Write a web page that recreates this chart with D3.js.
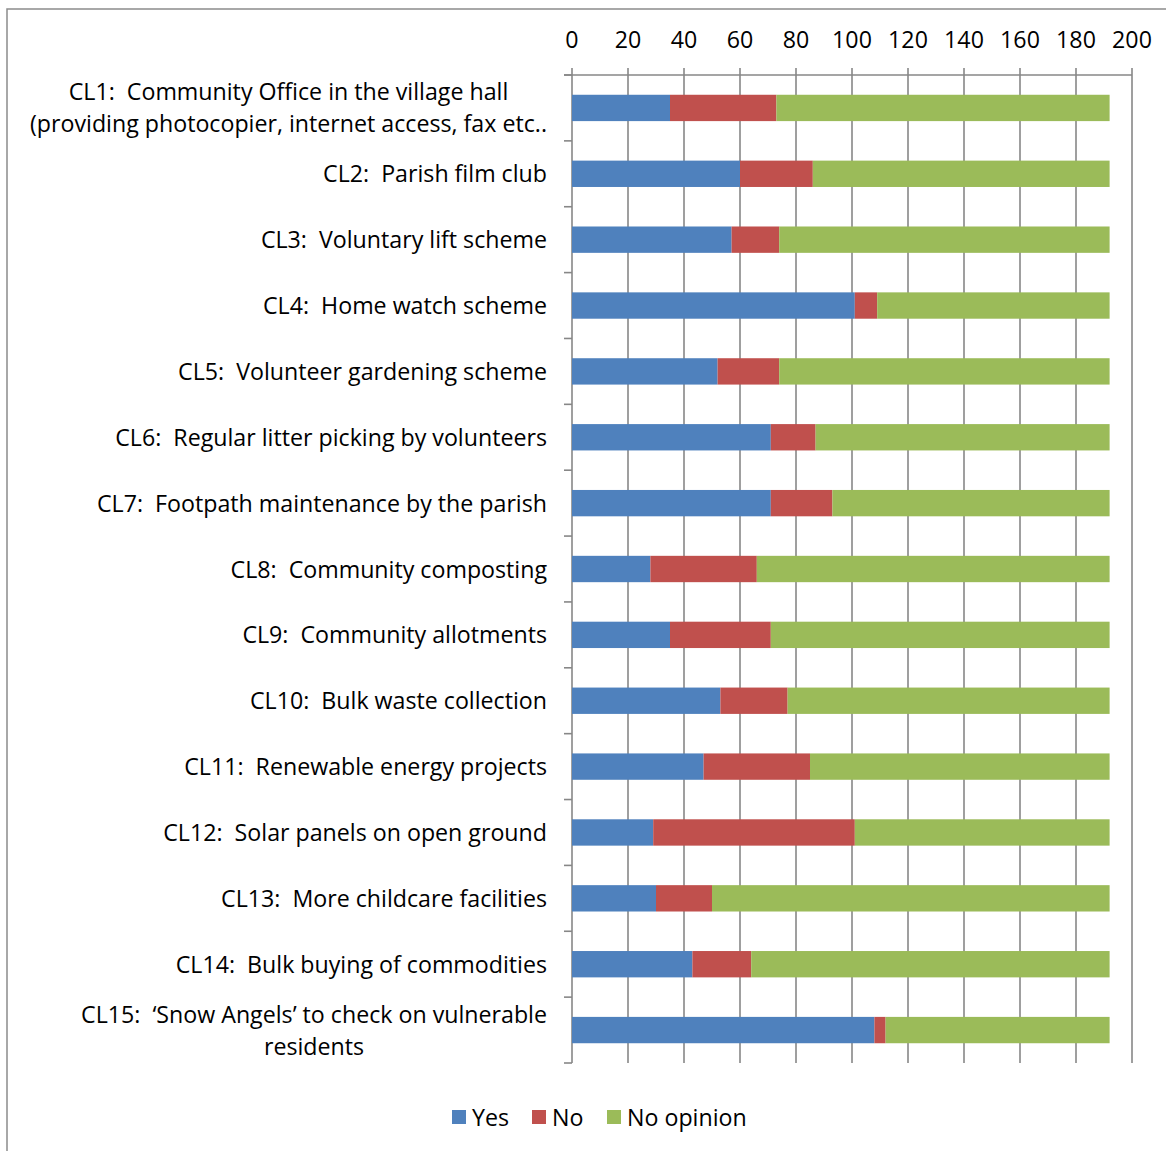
<!DOCTYPE html>
<html>
<head>
<meta charset="utf-8">
<script src="https://cdn.jsdelivr.net/npm/d3@7"></script>
<style>
  body { margin: 0; background: #fff; }
  text { font-family: "Open Sans", sans-serif; fill: #000; }
</style>
</head>
<body>
<div id="chart"></div>
<script>
var categories = [
  "CL1:  Community Office in the village hall\n(providing photocopier, internet access, fax etc..",
  "CL2:  Parish film club",
  "CL3:  Voluntary lift scheme",
  "CL4:  Home watch scheme",
  "CL5:  Volunteer gardening scheme",
  "CL6:  Regular litter picking by volunteers",
  "CL7:  Footpath maintenance by the parish",
  "CL8:  Community composting",
  "CL9:  Community allotments",
  "CL10:  Bulk waste collection",
  "CL11:  Renewable energy projects",
  "CL12:  Solar panels on open ground",
  "CL13:  More childcare facilities",
  "CL14:  Bulk buying of commodities",
  "CL15:  \u2018Snow Angels\u2019 to check on vulnerable\nresidents"
];
var yes       = [35, 60, 57, 101, 52, 71, 71, 28, 35, 53, 47, 29, 30, 43, 108];
var no        = [38, 26, 17, 8, 22, 16, 22, 38, 36, 24, 38, 72, 20, 21, 4];
var noOpinion = [119, 106, 118, 83, 118, 105, 99, 126, 121, 115, 107, 91, 142, 128, 80];
var seriesNames = ["Yes", "No", "No opinion"];
var colors = ["#4F81BD", "#C0504D", "#9BBB59"];
var xTicks = [0, 20, 40, 60, 80, 100, 120, 140, 160, 180, 200];

var width = 1166, height = 1151;
var margin = { top: 75, left: 572, right: 34, bottom: 88 };
var fontSize = "23.2px";

var svg = d3.select("#chart").append("svg")
  .attr("width", width)
  .attr("height", height);

// outer chart border
svg.append("rect")
  .attr("x", 7).attr("y", 9)
  .attr("width", width + 10).attr("height", height + 10)
  .attr("fill", "none")
  .attr("stroke", "#8c8c8c")
  .attr("stroke-width", 1.5);

var rows = categories.map(function(c, i) {
  return { label: c, Yes: yes[i], No: no[i], "No opinion": noOpinion[i] };
});
var stacked = d3.stack().keys(seriesNames)(rows);

var x = d3.scaleLinear().domain([0, 200]).range([margin.left, width - margin.right]);
var y = d3.scaleBand().domain(d3.range(categories.length))
  .range([margin.top, height - margin.bottom])
  .paddingInner(0.6).paddingOuter(0.3);

var plotTop = margin.top, plotBottom = height - margin.bottom;

// vertical gridlines
svg.append("g").selectAll("line")
  .data(xTicks)
  .enter().append("line")
  .attr("x1", function(d) { return x(d); })
  .attr("x2", function(d) { return x(d); })
  .attr("y1", plotTop - 7)
  .attr("y2", plotBottom)
  .attr("stroke", "#878787")
  .attr("stroke-width", 1.6);

// top axis line
svg.append("line")
  .attr("x1", x(0) - 8).attr("x2", x(200))
  .attr("y1", plotTop).attr("y2", plotTop)
  .attr("stroke", "#878787").attr("stroke-width", 1.6);

// left category ticks
var step = (plotBottom - plotTop) / categories.length;
svg.append("g").selectAll("line")
  .data(d3.range(categories.length + 1))
  .enter().append("line")
  .attr("x1", x(0) - 8).attr("x2", x(0))
  .attr("y1", function(d) { return plotTop + d * step; })
  .attr("y2", function(d) { return plotTop + d * step; })
  .attr("stroke", "#878787").attr("stroke-width", 1.6);

// tick labels
svg.append("g").selectAll("text")
  .data(xTicks)
  .enter().append("text")
  .attr("x", function(d) { return x(d); })
  .attr("y", 48)
  .attr("text-anchor", "middle")
  .style("font-size", fontSize)
  .text(function(d) { return d; });

// bars
svg.append("g").selectAll("g")
  .data(stacked)
  .enter().append("g")
  .attr("fill", function(d, i) { return colors[i]; })
  .selectAll("rect")
  .data(function(d) { return d; })
  .enter().append("rect")
  .attr("x", function(d) { return x(d[0]); })
  .attr("width", function(d) { return x(d[1]) - x(d[0]); })
  .attr("y", function(d, i) { return y(i); })
  .attr("height", y.bandwidth());

// category labels
var labelRight = 547;
categories.forEach(function(c, i) {
  var lines = c.split("\n");
  var cy = y(i) + y.bandwidth() / 2;
  var lineH = 32;
  var t = svg.append("text")
    .style("font-size", fontSize)
    .style("white-space", "pre")
    .attr("text-anchor", "middle");
  lines.forEach(function(l, j) {
    t.append("tspan")
      .attr("y", cy + 8.5 + (j - (lines.length - 1) / 2) * lineH)
      .text(l);
  });
  var maxW = 0;
  t.selectAll("tspan").each(function() {
    maxW = Math.max(maxW, this.getComputedTextLength());
  });
  t.selectAll("tspan").attr("x", labelRight - maxW / 2);
});

// legend
var legendX = [452, 532, 607];
var legend = svg.append("g").selectAll("g")
  .data(seriesNames)
  .enter().append("g")
  .attr("transform", function(d, i) { return "translate(" + legendX[i] + ",1110)"; });
legend.append("rect")
  .attr("width", 14).attr("height", 14)
  .attr("fill", function(d, i) { return colors[i]; });
legend.append("text")
  .attr("x", 20).attr("y", 15.5)
  .style("font-size", fontSize)
  .text(function(d) { return d; });
</script>
</body>
</html>
